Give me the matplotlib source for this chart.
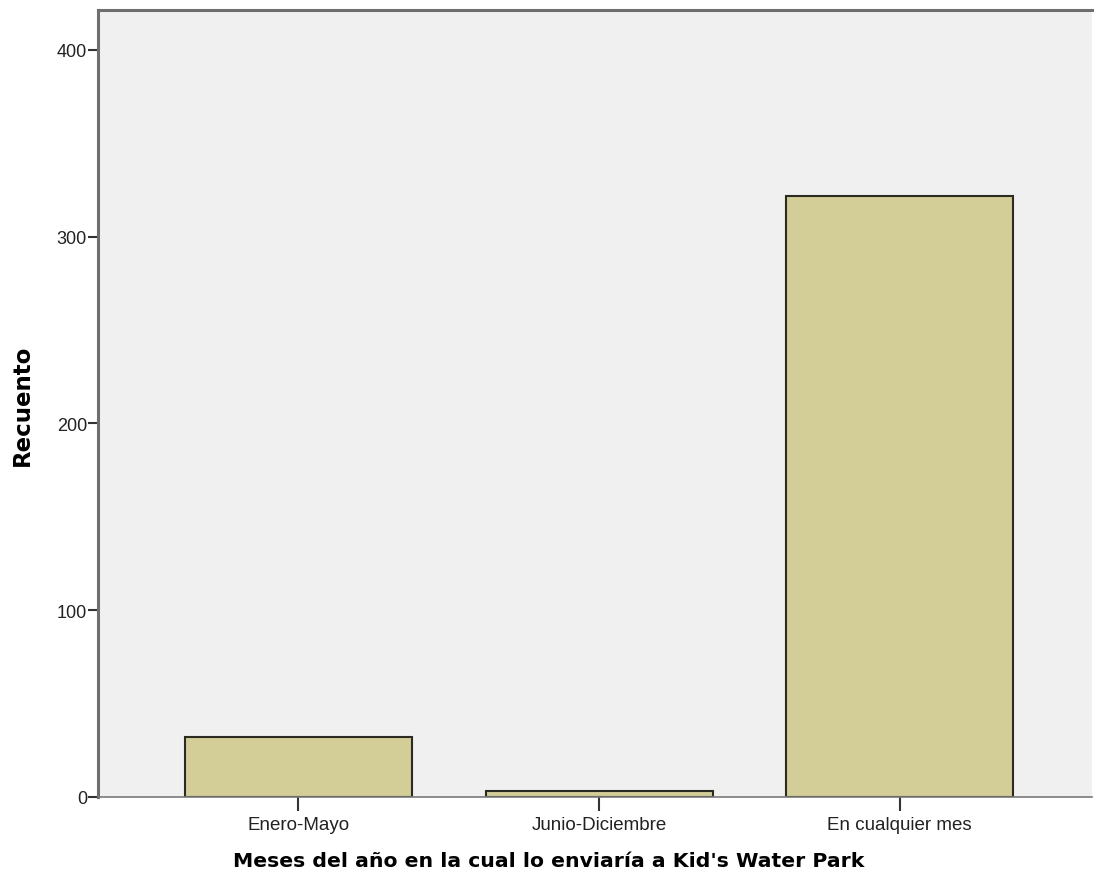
import matplotlib
matplotlib.use("Agg")
import matplotlib.pyplot as plt

categories = ["Enero-Mayo", "Junio-Diciembre", "En cualquier mes"]
counts = [32, 3, 322]
yticks = [0, 100, 200, 300, 400]

plt.rcParams['font.family'] = ['Liberation Sans', 'DejaVu Sans']

fig = plt.figure(figsize=(10.94, 8.79), dpi=100)
ax_left, ax_bottom = 98/1094, 81/879
ax_w, ax_h = (1092-98)/1094, (798-11)/879
ax = fig.add_axes([ax_left, ax_bottom, ax_w, ax_h])
ax.set_facecolor("#f0f0f0")

x = list(range(len(categories)))
ax.bar(x, counts, width=0.755, color="#d3ce97", edgecolor="#2b2b22", linewidth=1.5, zorder=2)

ax.set_xlim(-0.667, 2.64)
ax.set_ylim(0, 421.4)
ax.set_yticks(yticks)
ax.set_yticklabels([str(v) for v in yticks], fontsize=13, color="#222222")
ax.set_xticks(x)
ax.set_xticklabels(categories, fontsize=13.5, color="#222222")

for s in ["left", "top"]:
    ax.spines[s].set_color("#6e6e6e")
    ax.spines[s].set_linewidth(2.2)
ax.spines["bottom"].set_color("#7a7a7a")
ax.spines["bottom"].set_linewidth(1.2)
ax.spines["right"].set_visible(False)

ax.tick_params(axis="y", length=7, width=1.5, color="#333333", pad=1)
ax.tick_params(axis="x", length=10, width=1.5, color="#333333", pad=4)

ax.set_ylabel("Recuento", fontsize=16.5, fontweight="bold", family="DejaVu Sans")
ax.set_xlabel("Meses del año en la cual lo enviaría a Kid's Water Park", fontsize=14.7,
              fontweight="bold", family="DejaVu Sans")
ax.yaxis.set_label_coords((22-98)/994, (798-405)/787)
ax.xaxis.set_label_coords((549-98)/994, -(862-798)/787)
ax.xaxis.label.set_verticalalignment("center")
ax.yaxis.label.set_verticalalignment("center")

fig.savefig("out.png", dpi=100, facecolor="white")
